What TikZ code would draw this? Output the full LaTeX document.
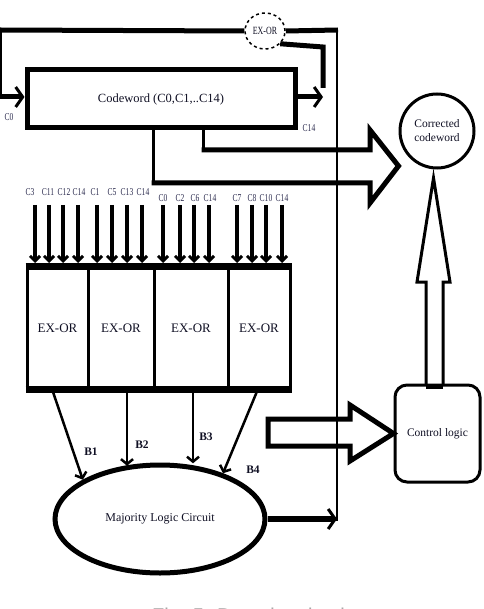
\documentclass[tikz,border=0pt]{standalone}
\usepackage{fontspec}
\setmainfont{Liberation Serif}
\newfontfamily\capfont{Liberation Sans}
\newfontfamily\condfont[FakeStretch=0.72]{Liberation Serif}
\usetikzlibrary{arrows.meta,shapes.geometric}
\definecolor{lblcol}{RGB}{45,45,80}
\definecolor{txtcol}{RGB}{15,15,35}
\tikzset{
  barb/.style={-{Straight Barb[length=7pt,width=20pt,line width=3pt]}},
  bbarb/.style={-{Straight Barb[length=5pt,width=12pt,line width=2.5pt]}},
  thickln/.style={line width=5pt},
  thinln/.style={line width=2pt},
  cellbox/.style={draw,line width=3pt,minimum height=120pt,inner sep=0pt,
     font=\fontsize{13}{14}\selectfont,text=txtcol},
  inlbl/.style={font=\condfont\fontsize{10.5}{11}\selectfont,text=lblcol,inner sep=0pt},
  blbl/.style={font=\bfseries\fontsize{11.5}{12}\selectfont,text=txtcol,inner sep=0pt},
  inarrow/.style={line width=3.5pt,-{Straight Barb[length=5pt,width=10pt,line width=3pt]}},
  hollow/.style={line width=5pt,line join=miter}
}
\begin{document}
\begin{tikzpicture}[x=1pt,y=-1pt]
\useasboundingbox (0,0) rectangle (483,609);
% nodes
\node[draw,line width=5pt,minimum width=268pt,minimum height=58pt,inner sep=0pt,
      font=\fontsize{12.5}{14}\selectfont,text=txtcol] (cw) at (161,99) {Codeword (C0,C1,..C14)};
\node[draw,dashed,line width=1.5pt,ellipse,minimum width=40pt,minimum height=36pt,inner sep=0pt,
      font=\condfont\fontsize{11}{12}\selectfont,text=txtcol] (tx) at (265,31) {EX-OR};
\node[draw,circle,line width=3pt,minimum size=74pt,inner sep=0pt,align=center,
      font=\fontsize{11.5}{14}\selectfont,text=txtcol] (cc) at (437,131) {Corrected\\codeword};
\node[draw,rounded corners=12pt,line width=3pt,minimum width=85pt,minimum height=97pt,inner sep=0pt,
      font=\fontsize{11.5}{13}\selectfont,text=txtcol] (cl) at (437.5,433.5) {Control logic};
\node[cellbox,minimum width=61pt] (e1) at (57.5,328) {EX-OR};
\node[cellbox,minimum width=66pt] (e2) at (121,328) {EX-OR};
\node[cellbox,minimum width=74pt] (e3) at (191,328) {EX-OR};
\node[cellbox,minimum width=62pt] (e4) at (259,328) {EX-OR};
\draw[line width=7pt] (e1.north west) -- (e4.north east);
\draw[line width=7pt] (e1.south west) -- (e4.south east);
\node[draw,ellipse,line width=5pt,minimum width=210pt,minimum height=108pt,inner sep=0pt,
      font=\fontsize{12}{13}\selectfont,text=txtcol] (mj) at (160,519) {Majority Logic Circuit};

% feedback loop at top
\coordinate (tl) at (0,30);
\coordinate (tr) at (338,30);
\coordinate (bus) at (337,30);
\coordinate (busend) at (337,521);
\coordinate (c0s) at (1,97);
\coordinate (c14t) at (323,97);
\draw[thickln] (tl) -- (tx.west);
\draw[thickln] (tx.east) -- (tr);
\draw[thinln] (bus) -- (busend);
\draw[thinln] (1,30) -- (c0s);
\draw[thickln,barb] (0,97) -- (cw.west |- c0s);
\draw[thickln,barb] (cw.east |- c14t) -- (c14t);
\draw[thickln] (tx.-40) -- (323,47) -- (323,88);
\node[inlbl] (lc0) at (9,117) {C0};
\node[inlbl] (lc14) at (309,128) {C14};

% big hollow arrow to corrected codeword
\coordinate (h1) at (153,130);
\coordinate (h2) at (203,130);
\draw[line width=3pt] (h1) -- (153,183);
\draw[line width=3pt] (h2) -- (203,150);
\draw[hollow] (151.5,183) -- (370,183) -- (370,203) -- (cc.west |- 0,166) -- (370,130) -- (370,150) -- (201.5,150);

% hollow arrow into control logic
\draw[hollow] (268,419) -- (350,419) -- (350,405) -- (cl.west) -- (350,461) -- (350,446) -- (268,446) -- cycle;

% hollow arrow up to corrected codeword
\draw[line width=3pt,line join=miter] (426,385) -- (426,282) -- (417,282) -- (433.5,178) -- (450,282) -- (443,282) -- (443,385);
\draw[line width=5pt] (426,386) -- (443,386);

% input arrows
\foreach \x in {35,49,63,78,97,112,127,142,163,180,194,209,237,252,266,282}
  \draw[inarrow] (\x,205) -- (\x,263);
\foreach \x/\t in {30/C3,48/C11,64/C12,79/C14,95/C1,112/C5,127/C13,143/C14}
  \node[inlbl] at (\x,192) {\t};
\foreach \x/\t in {163/C0,180/C2,195/C6,210/C14,237/C7,252/C8,266/C10,282/C14}
  \node[inlbl] at (\x,198) {\t};

% outputs B1..B4
\coordinate (b1s) at (52,389);
\coordinate (b2s) at (127,389);
\coordinate (b3s) at (193,389);
\coordinate (b4s) at (258,389);
\draw[line width=2.5pt,bbarb] (b1s) -- (mj.153);
\draw[line width=2.5pt,bbarb] (b2s) -- (b2s |- mj.124);
\draw[line width=2.5pt,bbarb] (b3s) -- (b3s |- mj.72);
\draw[line width=2.5pt,bbarb] (b4s) -- (mj.36);
\node[blbl] at (91,452) {B1};
\node[blbl] at (142,445) {B2};
\node[blbl] at (206,437) {B3};
\node[blbl] at (253,470) {B4};

% majority output to bus
\draw[line width=6pt,barb] (mj.east) -- (busend |- mj.east);

% caption (cut off at bottom edge, as in the reference)
\node[anchor=base west,inner sep=0pt,font=\capfont\fontsize{20}{22}\selectfont,text=black!35] (cap) at (152,622) {Fig. 5. Decoder circuit};
\end{tikzpicture}
\end{document}
